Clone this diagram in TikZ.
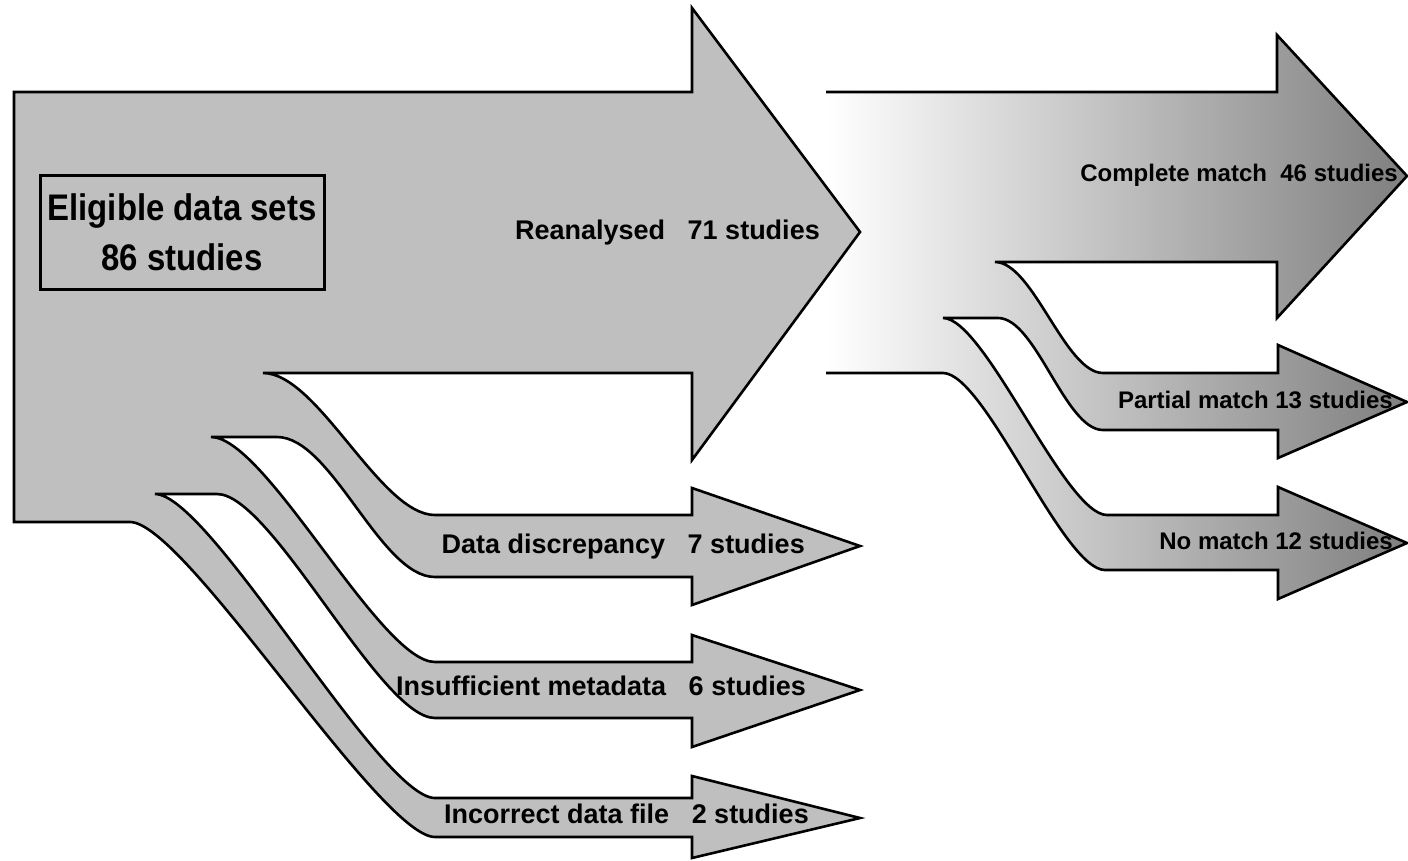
\documentclass[tikz,border=0pt]{standalone}
\usepackage{fontspec}
\setmainfont{Liberation Sans}
\newfontfamily\boxfont{Liberation Sans}[FakeStretch=0.89]

\begin{document}
\begin{tikzpicture}[x=1pt,y=-1pt]
\tikzset{
  flowshape/.style={draw=black,line width=2.6pt,line join=miter,fill=black!25},
  shadeshape/.style={draw=black,line width=2.6pt,line join=miter,left color=white,right color=black!50},
  flowlabel/.style={anchor=base east,inner sep=0pt,font=\fontsize{27}{32}\selectfont\bfseries},
  matchlabel/.style={anchor=base east,inner sep=0pt,font=\fontsize{24}{29}\selectfont\bfseries},
  startbox/.style={draw=black,line width=3pt,minimum width=284pt,minimum height=114pt,align=center,font=\boxfont\fontsize{37}{50}\selectfont\bfseries}
}
\useasboundingbox (0,0) rectangle (1408,860);
% reanalysed studies
\path[shadeshape] (826,92) -- (1277,92) -- (1277,35) -- (1407,176) -- (1277,318) -- (1277,262) -- (995,262)
  .. controls +(38,0) and +(-38,0) .. (1103,373) -- (1278,373) -- (1278,345) -- (1407,402) -- (1278,458) -- (1278,430) -- (1103,430)
  .. controls +(-38,0) and +(38,0) .. (998,318) -- (943,318)
  .. controls +(42,0) and +(-42,0) .. (1107,515) -- (1278,515) -- (1278,487) -- (1407,543) -- (1278,599) -- (1278,570) -- (1105,570)
  .. controls +(-42,0) and +(42,0) .. (943,373) -- (826,373);
% eligible data sets and the four branches
\path[flowshape] (14,92) -- (692,92) -- (692,8) -- (860,232) -- (692,460) -- (692,373) -- (263,373)
  .. controls +(55,0) and +(-55,0) .. (435,515) -- (692,515) -- (692,488) -- (860,546) -- (692,605) -- (692,577) -- (435,577)
  .. controls +(-55,0) and +(55,0) .. (277,437) -- (211,437)
  .. controls +(55,0) and +(-55,0) .. (435,662) -- (692,662) -- (692,635) -- (860,690) -- (692,747) -- (692,718) -- (435,718)
  .. controls +(-55,0) and +(55,0) .. (217,494) -- (155,494)
  .. controls +(55,0) and +(-55,0) .. (435,798) -- (692,798) -- (692,776) -- (860,818) -- (692,858) -- (692,837) -- (435,837)
  .. controls +(-55,0) and +(55,0) .. (130,522) -- (14,522) -- cycle;

\node[startbox] (eligible) at (182,232) {Eligible data sets\\86 studies};
\node[flowlabel] (reanalysed) at (820,239) {Reanalysed~~~71 studies};
\node[flowlabel] (discrepancy) at (805,553) {Data discrepancy~~~7 studies};
\node[flowlabel] (metadata) at (806,695) {Insufficient metadata~~~6 studies};
\node[flowlabel] (datafile) at (809,823) {Incorrect data file~~~2 studies};
\node[matchlabel] (complete) at (1398,181) {Complete match~~46 studies};
\node[matchlabel] (partial) at (1393,408) {Partial match 13 studies};
\node[matchlabel] (nomatch) at (1393,549) {No match 12 studies};
\end{tikzpicture}
\end{document}
